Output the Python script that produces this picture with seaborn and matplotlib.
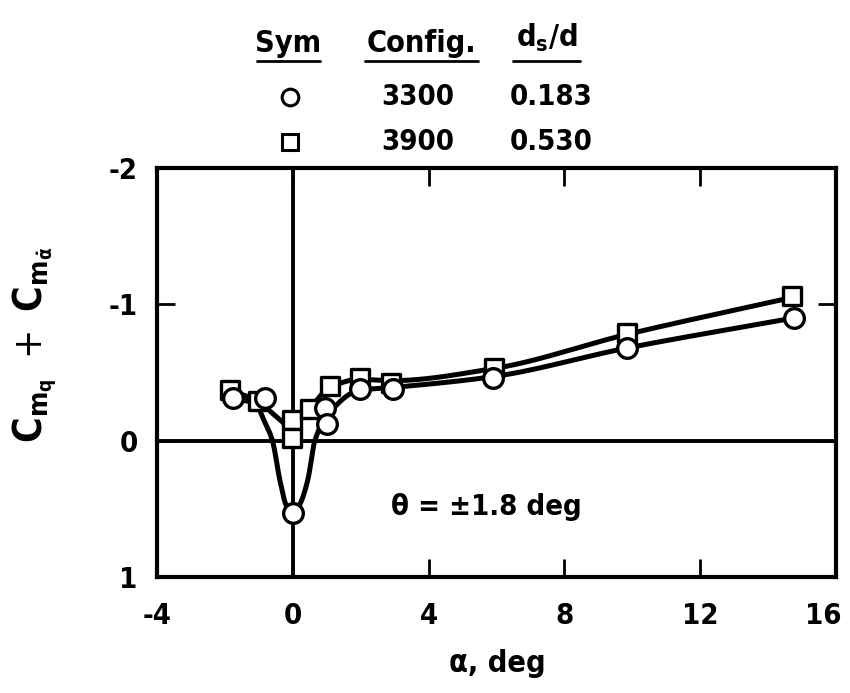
import numpy as np
import pandas as pd
import matplotlib
matplotlib.use("Agg")
import matplotlib.pyplot as plt
import matplotlib.transforms as mtransforms
import seaborn as sns
from matplotlib.lines import Line2D

# ---------------- data ----------------
alpha_3300 = [-1.76, -0.82, 0.0, 0.94, 1.0, 1.97, 2.94, 5.91, 9.85, 14.76]
cm_3300 = [-0.31, -0.31, 0.53, -0.24, -0.12, -0.38, -0.38, -0.46, -0.68, -0.90]

alpha_3900 = [-1.85, -1.03, -0.03, -0.03, 0.50, 1.09, 1.97, 2.90, 5.94, 9.85, 14.70]
cm_3900 = [-0.37, -0.29, -0.15, -0.02, -0.23, -0.40, -0.46, -0.42, -0.53, -0.79, -1.06]

# faired curves (points the hand-drawn fairing passes through)
fair_x_3300 = [-1.76, -1.1, -0.85, -0.6, -0.38, -0.2, 0.0, 0.2, 0.44, 0.65, 1.0,
               1.97, 2.94, 5.91, 9.85, 14.76]
fair_y_3300 = [-0.31, -0.27, -0.15, 0.0, 0.29, 0.47, 0.53, 0.47, 0.29, 0.0, -0.18,
               -0.37, -0.39, -0.47, -0.68, -0.90]

fair_x_3900 = [-1.85, -1.03, -0.5, -0.1, 0.50, 1.09, 1.97, 2.90, 5.94, 9.85, 14.70]
fair_y_3900 = [-0.37, -0.29, -0.18, -0.11, -0.24, -0.39, -0.45, -0.44, -0.53, -0.78, -1.05]

configs = ["3300", "3900"]
ds_over_d = ["0.183", "0.530"]
x_ticks = [-4, 0, 4, 8, 12, 16]
y_ticks = [-2, -1, 0, 1]


def pchip(x, y, xn):
    x = np.asarray(x, float)
    y = np.asarray(y, float)
    h = np.diff(x)
    d = np.diff(y) / h
    n = len(x)
    m = np.zeros(n)
    for k in range(1, n - 1):
        if d[k - 1] * d[k] <= 0:
            m[k] = 0.0
        else:
            w1 = 2 * h[k] + h[k - 1]
            w2 = h[k] + 2 * h[k - 1]
            m[k] = (w1 + w2) / (w1 / d[k - 1] + w2 / d[k])
    m[0] = d[0]
    m[-1] = d[-1]
    idx = np.clip(np.searchsorted(x, xn) - 1, 0, n - 2)
    t = (xn - x[idx]) / h[idx]
    h00 = 2 * t**3 - 3 * t**2 + 1
    h10 = t**3 - 2 * t**2 + t
    h01 = -2 * t**3 + 3 * t**2
    h11 = t**3 - t**2
    return h00 * y[idx] + h10 * h[idx] * m[idx] + h01 * y[idx + 1] + h11 * h[idx] * m[idx + 1]


sns.set_style("ticks")
plt.rcParams['font.family'] = ['DejaVu Sans']
plt.rcParams['font.stretch'] = 'condensed'
plt.rcParams['font.weight'] = 'normal'
plt.rcParams['mathtext.fontset'] = 'dejavusans'
plt.rcParams['text.color'] = 'black'
plt.rcParams['xtick.color'] = 'black'
plt.rcParams['ytick.color'] = 'black'
plt.rcParams['xtick.labelcolor'] = 'black'
plt.rcParams['ytick.labelcolor'] = 'black'

fig = plt.figure(figsize=(8.5, 6.93), dpi=100)
ax = fig.add_axes([157 / 850, 1 - 577 / 693, (836 - 157) / 850, (577 - 168) / 693])

# curves
for fx, fy in [(fair_x_3300, fair_y_3300), (fair_x_3900, fair_y_3900)]:
    xn = np.linspace(fx[0], fx[-1], 900)
    yn = pchip(fx, fy, xn)
    sns.lineplot(x=xn, y=yn, ax=ax, color='black', lw=3.6, sort=False,
                 estimator=None, zorder=3)

# zero lines
ax.axhline(0, color='black', lw=2.8, zorder=1)
ax.axvline(0, color='black', lw=2.8, zorder=1)

df1 = pd.DataFrame({'a': alpha_3300, 'c': cm_3300})
df2 = pd.DataFrame({'a': alpha_3900, 'c': cm_3900})
sns.scatterplot(data=df2, x='a', y='c', ax=ax, marker='s', s=165,
                facecolor='white', edgecolor='black', linewidth=2.4, zorder=4)
sns.scatterplot(data=df1, x='a', y='c', ax=ax, marker='o', s=200,
                facecolor='white', edgecolor='black', linewidth=2.4, zorder=5)

ax.set_xlim(-4, 16)
ax.set_ylim(1, -2)
ax.set_xticks(x_ticks)
ax.set_yticks(y_ticks)
ax.set_xticklabels([str(v) for v in x_ticks])
ax.set_yticklabels([str(v) for v in y_ticks])
ax.tick_params(direction='in', length=13, width=2, top=True, right=True,
               labelsize=21, pad=14)
ax.tick_params(axis='x', pad=18)
for sp in ax.spines.values():
    sp.set_linewidth(3)
    sp.set_color('black')
ax.set_xlabel('')
ax.set_ylabel('')
for lab in ax.get_xticklabels() + ax.get_yticklabels():
    lab.set_fontweight('bold')
# nudge the last x tick label inward so it stays inside the figure
last = ax.xaxis.get_major_ticks()[-1].label1
last.set_transform(last.get_transform() +
                   mtransforms.ScaledTranslation(-9 / 72, 0, fig.dpi_scale_trans))

fig.text(497 / 850, 1 - 664 / 693, 'α, deg', ha='center', va='center', fontsize=22,
         fontweight='bold')
fig.text(35 / 850, 1 - 345 / 693, r'$\mathbf{C_{m_q}}\ +\ \mathbf{C_{m_{\dot{\alpha}}}}$',
         rotation=90, ha='center', va='center', fontsize=28)

ax.text(5.7, 0.49, 'θ = ±1.8 deg', ha='center', va='center', fontsize=21, fontweight='bold')

# legend table
hy = 1 - 43 / 693
fig.text(288 / 850, hy, 'Sym', ha='center', va='center', fontsize=22, fontweight='bold')
fig.text(421 / 850, hy, 'Config.', ha='center', va='center', fontsize=22, fontweight='bold')
fig.text(547 / 850, 1 - 38 / 693, r'$\mathbf{d_s/d}$', ha='center', va='center', fontsize=22)
for x0, x1 in [(257, 320), (365, 478), (513, 580)]:
    fig.add_artist(Line2D([x0 / 850, x1 / 850], [1 - 61 / 693, 1 - 61 / 693],
                          color='black', lw=2, transform=fig.transFigure))
row_y = [97, 142]
markers = ['o', 's']
for ry, mk, cfg, ds in zip(row_y, markers, configs, ds_over_d):
    fy = 1 - ry / 693
    fig.add_artist(Line2D([290 / 850], [fy], marker=mk, markersize=12,
                          markerfacecolor='white', markeredgecolor='black',
                          markeredgewidth=2.2, linestyle='none', transform=fig.transFigure))
    fig.text(418 / 850, fy, cfg, ha='center', va='center', fontsize=21, fontweight='bold')
    fig.text(551 / 850, fy, ds, ha='center', va='center', fontsize=21, fontweight='bold')

fig.savefig('out.png', dpi=100)
